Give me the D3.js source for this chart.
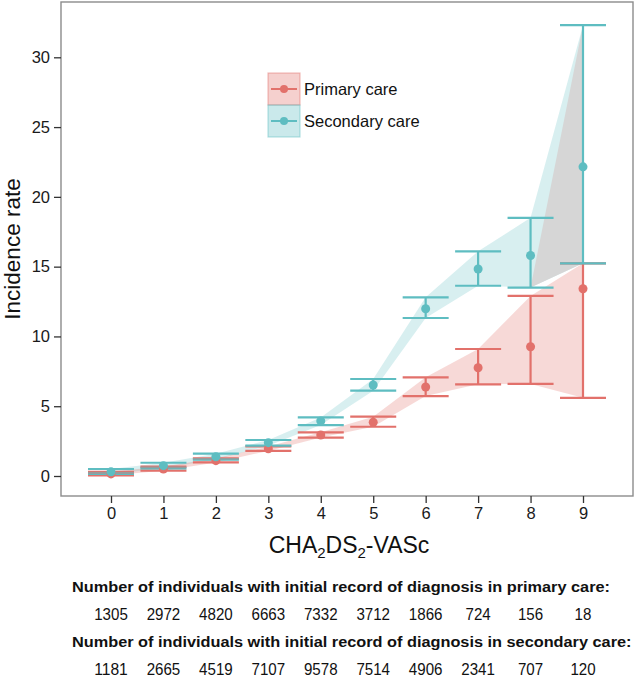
<!DOCTYPE html>
<html><head><meta charset="utf-8">
<script src="https://cdn.jsdelivr.net/npm/d3@7"></script>
<style>body{margin:0;background:#fff}svg{display:block}text{font-family:"Liberation Sans",Arial,Helvetica,sans-serif}</style>
</head><body><svg id="c" width="636" height="678"></svg>
<script>
const scores = [0,1,2,3,4,5,6,7,8,9];
const primRate = [0.15,0.5,1.1,1.95,2.94,3.85,6.38,7.76,9.26,13.42];
const primLow  = [0.05,0.38,0.97,1.8,2.75,3.53,5.73,6.57,6.6,5.6];
const primHigh = [0.3,0.68,1.27,2.12,3.13,4.25,7.07,9.1,12.9,15.24];
const secRate  = [0.3,0.74,1.38,2.39,3.94,6.52,11.98,14.83,15.8,22.15];
const secLow   = [0.15,0.55,1.18,2.17,3.65,6.11,11.32,13.63,13.5,15.24];
const secHigh  = [0.5,0.95,1.6,2.58,4.2,6.95,12.8,16.1,18.5,32.3];
const yTicks = [0,5,10,15,20,25,30];
const nPrimary = [1305,2972,4820,6663,7332,3712,1866,724,156,18];
const nSecondary = [1181,2665,4519,7107,9578,7514,4906,2341,707,120];
const legendLabels = ["Primary care","Secondary care"];

const RED = "#E2716B", TEAL = "#5EBDC1";
const svg = d3.select("#c");
const P = {l:61, r:633, t:2, b:496};
const x = d3.scaleLinear().domain([0,9]).range([111,583]);
const y = d3.scaleLinear().domain([0,30]).range([476,57.3]);
const capW = 23;

const g = svg.append("g");
svg.append("clipPath").attr("id","pc").append("rect")
  .attr("x",P.l).attr("y",P.t).attr("width",P.r-P.l).attr("height",P.b-P.t);
const plot = g.append("g").attr("clip-path","url(#pc)");

const area = (lo,hi)=> d3.area().x((d,i)=>x(scores[i])).y0((d,i)=>y(lo[i])).y1((d,i)=>y(hi[i]));
plot.append("path").datum(scores).attr("d",area(secLow,secHigh)).attr("fill",TEAL).attr("fill-opacity",0.24);
plot.append("path").datum(scores).attr("d",area(primLow,primHigh)).attr("fill",RED).attr("fill-opacity",0.27);
// grey overlap wedge in last segment
const i8 = 8, i9 = 9;
plot.append("path").attr("d", d3.line()([[x(scores[i8]),y(secLow[i8])],[x(scores[i9]),y(secHigh[i9])],[x(scores[i9]),y(secLow[i9])]]))
  .attr("fill","#d6d6d6");

function bars(rate,lo,hi,col){
  const gg = plot.append("g").attr("stroke",col).attr("stroke-width",2.2).attr("fill","none");
  scores.forEach((s,i)=>{
    const cx = x(s);
    gg.append("line").attr("x1",cx).attr("x2",cx).attr("y1",y(lo[i])).attr("y2",y(hi[i]));
    gg.append("line").attr("x1",cx-capW).attr("x2",cx+capW).attr("y1",y(lo[i])).attr("y2",y(lo[i]));
    gg.append("line").attr("x1",cx-capW).attr("x2",cx+capW).attr("y1",y(hi[i])).attr("y2",y(hi[i]));
  });
}
bars(primRate,primLow,primHigh,RED);
bars(secRate,secLow,secHigh,TEAL);
// grey where the two intervals overlap
scores.forEach((s,i)=>{
  const a = Math.max(primLow[i],secLow[i]), b = Math.min(primHigh[i],secHigh[i]);
  if (b > a) plot.append("rect").attr("x",x(s)-capW).attr("width",2*capW)
     .attr("y",y(b)).attr("height",y(a)-y(b)).attr("fill","#9a9a9a");
});
scores.forEach((s,i)=>{
  plot.append("circle").attr("cx",x(s)).attr("cy",y(primRate[i])).attr("r",4.5).attr("fill",RED);
  plot.append("circle").attr("cx",x(s)).attr("cy",y(secRate[i])).attr("r",4.5).attr("fill",TEAL);
});

// panel border
g.append("rect").attr("x",P.l).attr("y",P.t).attr("width",P.r-P.l).attr("height",P.b-P.t)
  .attr("fill","none").attr("stroke","#8c8c8c").attr("stroke-width",1.4);

// axes
const yAx = g.append("g").attr("transform",`translate(${P.l},0)`)
  .call(d3.axisLeft(y).tickValues(yTicks).tickSize(7).tickPadding(4));
const xAx = g.append("g").attr("transform",`translate(0,${P.b})`)
  .call(d3.axisBottom(x).tickValues(scores).tickSize(7).tickPadding(4));
[yAx,xAx].forEach(a=>{
  a.select(".domain").remove();
  a.selectAll(".tick line").attr("stroke","#333").attr("stroke-width",1.3);
  a.selectAll("text").attr("font-size",16.5).attr("fill","#1a1a1a").attr("font-family","Liberation Sans, Arial, sans-serif");
});

// axis titles
g.append("text").attr("transform","translate(20,249) rotate(-90)").attr("text-anchor","middle")
  .attr("font-size",22.5).attr("fill","#111").text("Incidence rate");
const xt = g.append("text").attr("x",349).attr("y",553).attr("text-anchor","middle").attr("font-size",23).attr("fill","#111");
xt.append("tspan").text("CHA");
xt.append("tspan").attr("font-size",15).attr("dy",5).text("2");
xt.append("tspan").attr("dy",-5).text("DS");
xt.append("tspan").attr("font-size",15).attr("dy",5).text("2");
xt.append("tspan").attr("dy",-5).text("-VASc");

// legend
const lg = g.append("g");
legendLabels.forEach((lab,i)=>{
  const col = i===0?RED:TEAL;
  const y0 = 73 + i*32;
  lg.append("rect").attr("x",268).attr("y",y0).attr("width",32).attr("height",32)
    .attr("fill",col).attr("fill-opacity",0.33).attr("stroke",col).attr("stroke-opacity",0.45).attr("stroke-width",1.2);
  lg.append("line").attr("x1",271).attr("x2",297).attr("y1",y0+16).attr("y2",y0+16).attr("stroke",col).attr("stroke-width",2);
  lg.append("circle").attr("cx",284).attr("cy",y0+16).attr("r",4).attr("fill",col);
  lg.append("text").attr("x",304).attr("y",y0+22).attr("font-size",16.5).attr("fill","#111").text(lab);
});

// counts
const bt = g.append("g").attr("fill","#111");
bt.append("text").attr("x",72).attr("y",592).attr("font-size",14).attr("font-weight","bold")
  .attr("textLength",538).attr("lengthAdjust","spacingAndGlyphs")
  .text("Number of individuals with initial record of diagnosis in primary care:");
bt.append("text").attr("x",72).attr("y",646.5).attr("font-size",14).attr("font-weight","bold")
  .attr("textLength",559.5).attr("lengthAdjust","spacingAndGlyphs")
  .text("Number of individuals with initial record of diagnosis in secondary care:");
const numRow = (arr,yy)=>arr.forEach((n,i)=>{
  const s = String(n), w = s.length*8.4;
  bt.append("text").attr("x",x(scores[i])-w/2).attr("y",yy).attr("font-size",16)
    .attr("textLength",w).attr("lengthAdjust","spacingAndGlyphs").text(s);
});
numRow(nPrimary,620);
numRow(nSecondary,675);
</script></body></html>
